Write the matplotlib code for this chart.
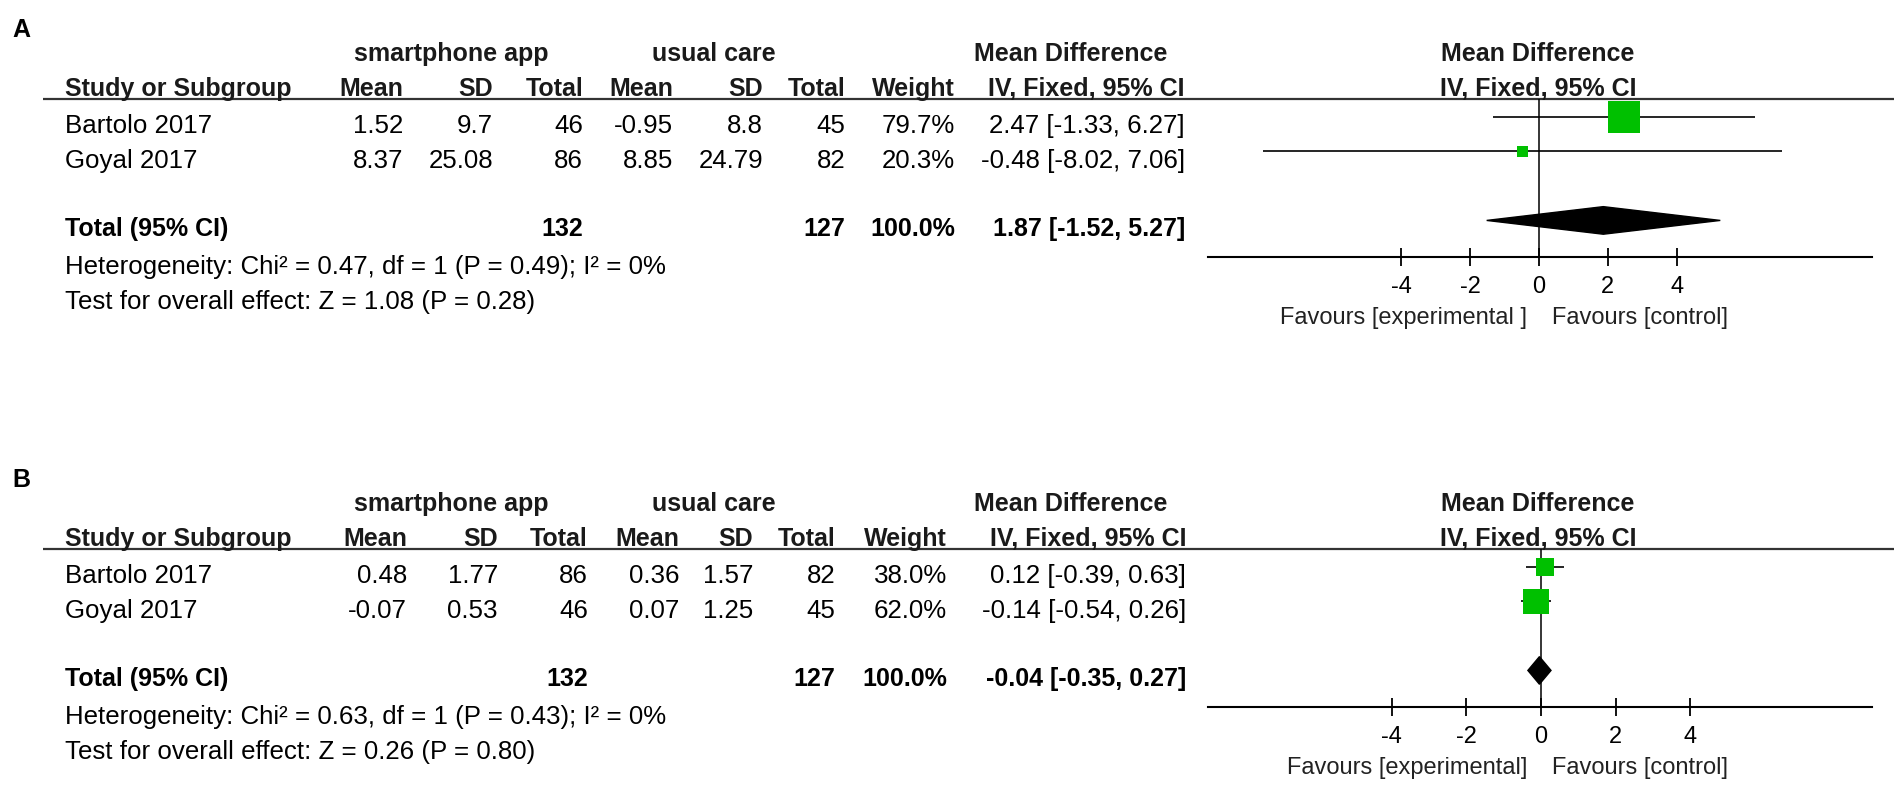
import matplotlib
matplotlib.use('Agg')
import matplotlib.pyplot as plt
from matplotlib.patches import Polygon

plt.rcParams['font.family'] = ['Liberation Sans', 'DejaVu Sans']
plt.rcParams['axes.unicode_minus'] = False

# ---- data ----
studies = ["Bartolo 2017", "Goyal 2017"]
col_names = ["Mean", "SD", "Total", "Mean", "SD", "Total", "Weight"]
md_ticks = [-4, -2, 0, 2, 4]

# panel A
a_app_mean = [1.52, 8.37]
a_app_sd = [9.7, 25.08]
a_app_n = [46, 86]
a_uc_mean = [-0.95, 8.85]
a_uc_sd = [8.8, 24.79]
a_uc_n = [45, 82]
a_weight = [79.7, 20.3]
a_md = [2.47, -0.48]
a_lo = [-1.33, -8.02]
a_hi = [6.27, 7.06]
a_total_n = [132, 127]
a_total_md = [1.87, -1.52, 5.27]
a_het = "Heterogeneity: Chi\u00b2 = 0.47, df = 1 (P = 0.49); I\u00b2 = 0%"
a_test = "Test for overall effect: Z = 1.08 (P = 0.28)"
a_fav = ["Favours [experimental ]", "Favours [control]"]

# panel B
b_app_mean = [0.48, -0.07]
b_app_sd = [1.77, 0.53]
b_app_n = [86, 46]
b_uc_mean = [0.36, 0.07]
b_uc_sd = [1.57, 1.25]
b_uc_n = [82, 45]
b_weight = [38.0, 62.0]
b_md = [0.12, -0.14]
b_lo = [-0.39, -0.54]
b_hi = [0.63, 0.26]
b_total_n = [132, 127]
b_total_md = [-0.04, -0.35, 0.27]
b_het = "Heterogeneity: Chi\u00b2 = 0.63, df = 1 (P = 0.43); I\u00b2 = 0%"
b_test = "Test for overall effect: Z = 0.26 (P = 0.80)"
b_fav = ["Favours [experimental]", "Favours [control]"]

W, H = 1904, 787
fig = plt.figure(figsize=(W / 100, H / 100), dpi=100)
bg = fig.add_axes([0, 0, 1, 1])
bg.set_xlim(0, W)
bg.set_ylim(H, 0)
bg.axis('off')

FS = 18.6   # regular text
FSB = 18    # bold text


def txt(x, y, s, ha='left', bold=False, size=None, color='black'):
    if size is None:
        size = FSB if bold else FS
    bg.text(x, y + 9, s, ha=ha, va='baseline', fontsize=size,
            fontweight='bold' if bold else 'normal', color=color)


def panel(dy, letter, app_mean, app_sd, app_n, uc_mean, uc_sd, uc_n, weight,
          md, lo, hi, total_n, total_md, het, test, fav, cols, xlim):
    hc = '#1a1a1a'
    txt(12, 28 + dy, letter, bold=True, size=18)
    # group headers
    txt(451, 52 + dy, "smartphone app", ha='center', bold=True, color=hc)
    txt(714, 52 + dy, "usual care", ha='center', bold=True, color=hc)
    txt(1071, 52 + dy, "Mean Difference", ha='center', bold=True, color=hc)
    txt(1538, 52 + dy, "Mean Difference", ha='center', bold=True, color=hc)
    # column headers
    txt(65, 87 + dy, "Study or Subgroup", bold=True, color=hc)
    for x, name in zip(cols, col_names):
        txt(x, 87 + dy, name, ha='right', bold=True, color=hc)
    txt(cols[-1], 87 + dy, "IV, Fixed, 95% CI", ha='right', bold=True, color=hc)
    txt(1538, 87 + dy, "IV, Fixed, 95% CI", ha='center', bold=True, color=hc)
    bg.plot([43, 1894], [99 + dy, 99 + dy], color='#333333', lw=1.6,
            solid_capstyle='butt')

    # study rows
    for i, s in enumerate(studies):
        y = 124 + 35 * i + dy
        txt(65, y, s)
        vals = [str(app_mean[i]), str(app_sd[i]), str(app_n[i]),
                str(uc_mean[i]), str(uc_sd[i]), str(uc_n[i]),
                f"{weight[i]:.1f}%",
                f"{md[i]:.2f} [{lo[i]:.2f}, {hi[i]:.2f}]"]
        for x, v in zip(cols, vals):
            txt(x, y, v, ha='right')

    # total row
    y = 227 + dy
    txt(65, y, "Total (95% CI)", bold=True)
    txt(cols[2], y, str(total_n[0]), ha='right', bold=True)
    txt(cols[5], y, str(total_n[1]), ha='right', bold=True)
    txt(cols[6], y, "100.0%", ha='right', bold=True)
    txt(cols[7], y, f"{total_md[0]:.2f} [{total_md[1]:.2f}, {total_md[2]:.2f}]",
        ha='right', bold=True)
    txt(65, 265 + dy, het)
    txt(65, 300 + dy, test)

    # forest plot
    fa = fig.add_axes([1208 / W, 1 - (257 + dy) / H, (1872 - 1208) / W, 158 / H])
    fa.patch.set_alpha(0)
    fa.set_xlim(xlim)
    fa.set_ylim(4.06, -0.52)
    for k in ['top', 'left', 'right']:
        fa.spines[k].set_visible(False)
    fa.spines['bottom'].set_linewidth(1.5)
    fa.set_yticks([])
    fa.set_xticks(md_ticks)
    fa.set_xticklabels([str(t) for t in md_ticks])
    fa.tick_params(axis='x', direction='inout', length=13, width=1.3, pad=7,
                   labelsize=17)
    fa.axvline(0, color='black', lw=1.1)
    rows = list(range(len(studies)))
    fa.hlines(rows, lo, hi, color='black', lw=1.2)
    sizes = [(1.17 * w ** 0.75 * 0.72) ** 2 for w in weight]
    fa.scatter(md, rows, marker='s', s=sizes, color='#00c000', linewidths=0,
               zorder=3)
    r = 3
    h = 0.4
    fa.add_patch(Polygon([(total_md[1], r), (total_md[0], r - h),
                          (total_md[2], r), (total_md[0], r + h)],
                         closed=True, color='black', zorder=3))
    txt(1527, 315 + dy, fav[0], ha='right', size=17, color='#222222')
    txt(1552, 315 + dy, fav[1], ha='left', size=17, color='#222222')


panel(0, "A", a_app_mean, a_app_sd, a_app_n, a_uc_mean, a_uc_sd, a_uc_n,
      a_weight, a_md, a_lo, a_hi, a_total_n, a_total_md, a_het, a_test, a_fav,
      [403, 493, 583, 673, 763, 845, 955, 1185], (-9.62, 9.68))
panel(450, "B", b_app_mean, b_app_sd, b_app_n, b_uc_mean, b_uc_sd, b_uc_n,
      b_weight, b_md, b_lo, b_hi, b_total_n, b_total_md, b_het, b_test, b_fav,
      [407, 498, 588, 679, 753, 835, 947, 1186], (-8.92, 8.87))

fig.savefig('out.png', dpi=100)
